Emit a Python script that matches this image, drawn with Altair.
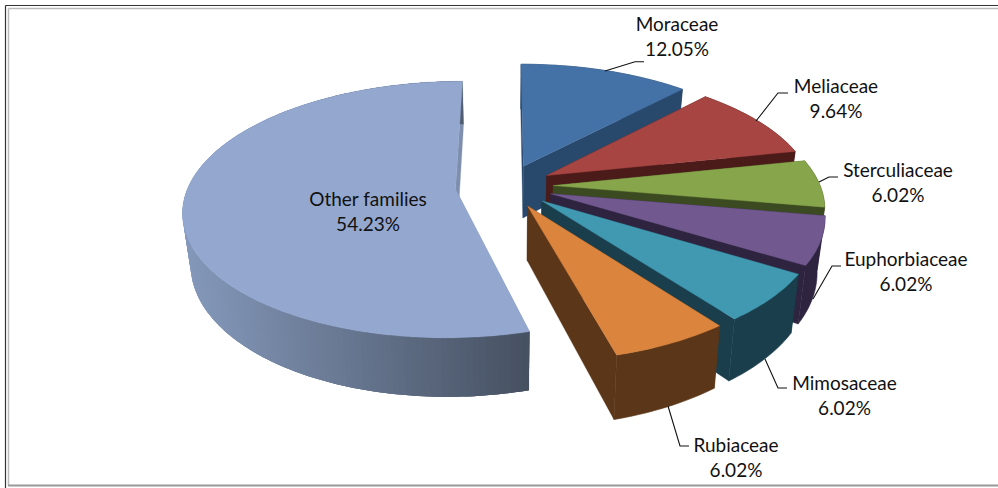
import math
import altair as alt
import pandas as pd

# Plant families and their shares, clockwise from twelve o'clock
families = ["Moraceae", "Meliaceae", "Sterculiaceae", "Euphorbiaceae",
            "Mimosaceae", "Rubiaceae", "Other families"]
shares = [12.05, 9.64, 6.02, 6.02, 6.02, 6.02, 54.23]

top_colors = ["#4471A6", "#A64542", "#87A54B", "#71598F", "#4098B1", "#DB843D", "#93A7CF"]
wall_colors = [("#28486C", "#28486C"), ("#4B1B19", "#4B1B19"), ("#3B4A20", "#3B4A20"),
               ("#2E2440", "#2E2440"), ("#1A3E4B", "#1A3E4B"), ("#5B3618", "#5B3618"),
               ("#8498BA", "#444E5E")]
cut_colors = ["#28486C", "#4B1B19", "#3B4A20", "#2E2440", "#1A3E4B", "#5B3618", "#7E8FAE"]
explosions = [0.175, 0.175, 0.175, 0.175, 0.175, 0.175, 0.192]
depths = [53, 53, 53, 53, 53, 53, 49.5]

# Label centres and leader-line elbows
label_x = [677, 836, 898, 906, 844.5, 736, 368]
label_y = [25, 87, 171, 260, 384, 446, 200]
leaders = {
    "Moraceae": [(605, 71), (635, 61.7), (644, 61.7)],
    "Meliaceae": [(756, 121), (778, 93), (788, 93)],
    "Sterculiaceae": [(819, 182), (829, 177), (838, 177)],
    "Euphorbiaceae": [(813, 299), (832, 266), (841, 266)],
    "Mimosaceae": [(765, 359), (778, 388), (787, 388)],
    "Rubiaceae": [(668, 406), (680, 446), (689, 446)],
}

# Tilted-disc camera
CX, CY = 506.5, 186.0
RX, RY = 267.0, 124.0
PERSPECTIVE = 0.158
FLOOR_SHRINK = 0.975


def project(xd, vd, drop=0.0):
    s = 1.0 / (1.0 - PERSPECTIVE * vd)
    px = RX * xd * s
    py = CY + RY * vd * s
    if drop:
        px *= FLOOR_SHRINK
        py += drop * s
    return [CX + px, py]


def mix(c1, c2, t):
    a = [int(c1[i:i + 2], 16) for i in (1, 3, 5)]
    b = [int(c2[i:i + 2], 16) for i in (1, 3, 5)]
    return "#%02x%02x%02x" % tuple(round(p + (q - p) * t) for p, q in zip(a, b))


def polygon(points, color, seam=0.6):
    ring = [list(p) for p in points] + [list(points[0])]
    return {"type": "Feature",
            "geometry": {"type": "Polygon", "coordinates": [ring]},
            "properties": {"color": color, "seam": seam}}


def slice_features(start, sweep, explode, depth, top, walls, cut):
    mid = start + sweep / 2
    ox = explode * math.sin(mid)
    ov = -explode * math.cos(mid)

    def rim(theta, drop=0.0):
        return project(ox + math.sin(theta), ov - math.cos(theta), drop)

    apex, apex_low = project(ox, ov), project(ox, ov, depth)
    n = max(6, int(sweep / 0.02))
    thetas = [start + sweep * i / n for i in range(n + 1)]
    out = []
    for edge in (start, start + sweep):
        out.append(polygon([apex, rim(edge), rim(edge, depth), apex_low], cut, 0.3))

    def band(arc):
        return [rim(t) for t in arc] + [rim(t, depth) for t in reversed(arc)]

    if walls[0] == walls[1]:
        out.append(polygon(band(thetas), walls[0]))
    else:
        # Each strip runs under the next one, so no seams show in the shading
        xs = [rim(t)[0] for t in thetas]
        lo, hi = min(xs), max(xs)
        ordered = sorted(range(n), key=lambda i: rim(thetas[i])[0], reverse=True)
        for i in ordered:
            t = (rim(thetas[i])[0] - lo) / (hi - lo)
            arc = thetas[max(0, i - 2):i + 2]
            out.append(polygon(band(arc), mix(walls[0], walls[1], t), 0))
    out.append(polygon([apex] + [rim(t) for t in thetas], top, 0.4))
    return out


spans = []
acc = 0.0
for value in shares:
    sweep = value / sum(shares) * 2 * math.pi
    spans.append((acc, sweep))
    acc += sweep

features = []
for i in [6, 0, 1, 2, 3, 4, 5]:
    features += slice_features(spans[i][0], spans[i][1], explosions[i], depths[i],
                               top_colors[i], wall_colors[i], cut_colors[i])

shapes = alt.Chart(
    alt.Data(values={"type": "FeatureCollection", "features": features},
             format=alt.DataFormat(property="features", type="json"))
).mark_geoshape().encode(
    fill=alt.Fill("properties.color:N", scale=None),
    stroke=alt.Stroke("properties.color:N", scale=None),
    strokeWidth=alt.StrokeWidth("properties.seam:Q", scale=None),
).project(type="identity", scale=1, translate=[0, 0])

x_px = alt.Scale(domain=[0, 998], range=[0, 998])
y_px = alt.Scale(domain=[0, 488], range=[0, 488])

leader_rows = [{"family": k, "step": j, "x": p[0], "y": p[1]}
               for k, pts in leaders.items() for j, p in enumerate(pts)]
leader_lines = alt.Chart(pd.DataFrame(leader_rows)).mark_line(color="#111111", strokeWidth=1.1).encode(
    x=alt.X("x:Q", scale=x_px, axis=None),
    y=alt.Y("y:Q", scale=y_px, axis=None),
    detail="family:N",
    order="step:Q",
)

label_rows = []
for name, share, lx, ly in zip(families, shares, label_x, label_y):
    label_rows.append({"text": name, "x": lx, "y": ly})
    label_rows.append({"text": f"{share:.2f}%", "x": lx, "y": ly + 25})
labels = alt.Chart(pd.DataFrame(label_rows)).mark_text(
    font="Lato", fontSize=19, color="#111111", align="center", baseline="middle"
).encode(
    x=alt.X("x:Q", scale=x_px, axis=None),
    y=alt.Y("y:Q", scale=y_px, axis=None),
    text="text:N",
)

# Double frame around the chart: dark outer line, grey inner line
frame_rows = [
    {"x": 5.5, "y": 5.5, "x2": 998, "y2": 5.5, "c": "#333333", "w": 1.2},
    {"x": 5.5, "y": 5.5, "x2": 5.5, "y2": 488, "c": "#333333", "w": 1.2},
    {"x": 8.5, "y": 8.5, "x2": 998, "y2": 8.5, "c": "#BBBBBB", "w": 1.5},
    {"x": 8.5, "y": 8.5, "x2": 8.5, "y2": 486, "c": "#BBBBBB", "w": 1.5},
    {"x": 8, "y": 485.5, "x2": 998, "y2": 485.5, "c": "#999999", "w": 2},
]
frame = alt.Chart(pd.DataFrame(frame_rows)).mark_rule().encode(
    x=alt.X("x:Q", scale=x_px, axis=None),
    x2="x2:Q",
    y=alt.Y("y:Q", scale=y_px, axis=None),
    y2="y2:Q",
    color=alt.Color("c:N", scale=None),
    strokeWidth=alt.StrokeWidth("w:Q", scale=None),
)

chart = alt.layer(frame, shapes, leader_lines, labels).properties(
    width=998, height=488, padding=0,
    autosize=alt.AutoSizeParams(type="none"),
    background="white",
).configure_view(stroke=None)

chart.save("out.html", embed_options={"renderer": "svg", "actions": False})
